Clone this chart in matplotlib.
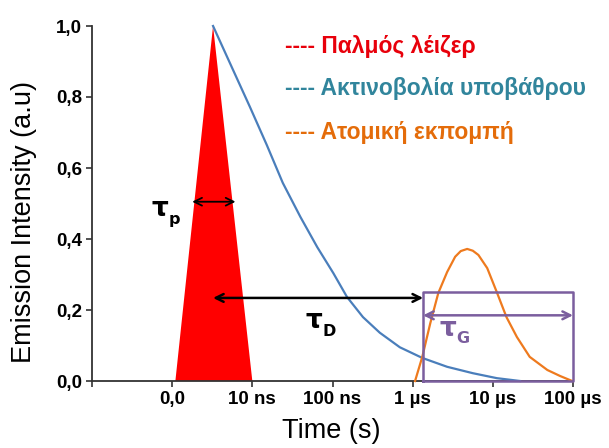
import matplotlib
matplotlib.use("Agg")
import matplotlib.pyplot as plt

# time axis is drawn on a decade scale: one unit per tick
tick_pos = [-1, 0, 1, 2, 3, 4, 5]
tick_labels = ["", "0,0", "10 ns", "100 ns", "1 µs", "10 µs", "100 µs"]
y_ticks = [0.0, 0.2, 0.4, 0.6, 0.8, 1.0]
y_tick_labels = ["0,0", "0,2", "0,4", "0,6", "0,8", "1,0"]

# laser pulse (triangle)
pulse_x = [0.04, 0.51, 1.0]
pulse_y = [0.0, 1.0, 0.0]

# background emission decay
bg_x = [0.51, 0.76, 0.97, 1.18, 1.38, 1.60, 1.81, 2.01, 2.18, 2.38,
        2.59, 2.84, 3.12, 3.43, 3.75, 4.05, 4.34]
bg_y = [1.0, 0.876, 0.772, 0.665, 0.558, 0.462, 0.377, 0.304, 0.237, 0.180,
        0.136, 0.095, 0.065, 0.040, 0.022, 0.008, 0.0]

# atomic emission
at_x = [3.03, 3.12, 3.22, 3.32, 3.43, 3.53, 3.60, 3.68, 3.75, 3.82, 3.93,
        4.05, 4.17, 4.30, 4.46, 4.68, 4.84, 4.99]
at_y = [0.0, 0.068, 0.163, 0.248, 0.307, 0.35, 0.366, 0.372, 0.367, 0.355, 0.318,
        0.25, 0.18, 0.124, 0.068, 0.031, 0.014, 0.0]

# gate window and delays
gate_start, gate_end, gate_height = 3.13, 5.0, 0.25
tp_range, tp_level = (0.25, 0.79), 0.505
td_range, td_level = (0.51, 3.13), 0.234
tg_level = 0.185

legend_texts = ["---- Παλμός λέιζερ", "---- Ακτινοβολία υποβάθρου", "---- Ατομική εκπομπή"]
legend_colors = ["#E8000B", "#31859C", "#E46C0A"]
legend_rows = [0.941, 0.825, 0.701]

red = "#FF0000"
blue = "#4A7EBB"
orange = "#EE7A1E"
purple = "#7B5E9E"

fig = plt.figure(figsize=(6.09, 4.48), dpi=100)
ax = fig.add_axes([92 / 609, 67 / 448, 481 / 609, 355 / 448])

ax.fill(pulse_x, pulse_y, color=red, lw=0, zorder=2)
ax.plot(bg_x, bg_y, color=blue, lw=1.6, zorder=3, clip_on=False,
        solid_joinstyle="round")
ax.plot(at_x, at_y, color=orange, lw=1.6, zorder=3, clip_on=False,
        solid_joinstyle="round")

# gate box
ax.plot([gate_start, gate_end, gate_end, gate_start, gate_start],
        [0, 0, gate_height, gate_height, 0],
        color=purple, lw=1.8, zorder=4, clip_on=False)

arrow_kw = dict(arrowstyle="<->", mutation_scale=14, shrinkA=0, shrinkB=0)
ax.annotate("", xy=(tp_range[1], tp_level), xytext=(tp_range[0], tp_level),
            arrowprops=dict(color="black", lw=1.3, **arrow_kw), zorder=5)
ax.annotate("", xy=(td_range[1], td_level), xytext=(td_range[0], td_level),
            arrowprops=dict(color="black", lw=1.8, **arrow_kw), zorder=5)
ax.annotate("", xy=(gate_end, tg_level), xytext=(gate_start, tg_level),
            arrowprops=dict(color=purple, lw=1.8, **arrow_kw), zorder=5)

# tau labels with subscripts
def tau_label(x, y, sub, color):
    ax.text(x, y, "τ", color=color, fontsize=19, fontweight="bold",
            family="DejaVu Sans", ha="right", va="baseline")
    ax.text(x, y - 0.022, sub, color=color, fontsize=11.5, fontweight="bold",
            family="DejaVu Sans", ha="left", va="baseline")

tau_label(-0.05, 0.465, "p", "black")
tau_label(1.87, 0.15, "D", "black")
tau_label(3.54, 0.128, "G", purple)

for txt, col, row in zip(legend_texts, legend_colors, legend_rows):
    ax.text(1.41, row, txt, color=col, fontsize=16.5,
            fontweight="bold", family="Liberation Sans", ha="left", va="center")

ax.set_xlim(-1, 5)
ax.set_ylim(0, 1)
ax.set_xticks(tick_pos)
ax.set_xticklabels(tick_labels)
ax.set_yticks(y_ticks)
ax.set_yticklabels(y_tick_labels)
for lab in ax.get_xticklabels() + ax.get_yticklabels():
    lab.set_family("Liberation Sans")
    lab.set_fontweight("bold")
    lab.set_fontsize(13.5)
ax.tick_params(direction="out", length=4.5, width=1.2, color="#333333", pad=2.5)

for side in ["top", "right"]:
    ax.spines[side].set_visible(False)
for side in ["left", "bottom"]:
    ax.spines[side].set_linewidth(1.3)
    ax.spines[side].set_color("#333333")

ax.set_ylabel("Emission Intensity (a.u)", fontsize=19.5, family="Liberation Sans")
ax.yaxis.set_label_coords(-0.114, 0.448)
ax.set_xlabel("Time (s)", fontsize=19.5, family="Liberation Sans")
ax.xaxis.set_label_coords(0.497, -0.104)

fig.savefig("out.png", dpi=100)
